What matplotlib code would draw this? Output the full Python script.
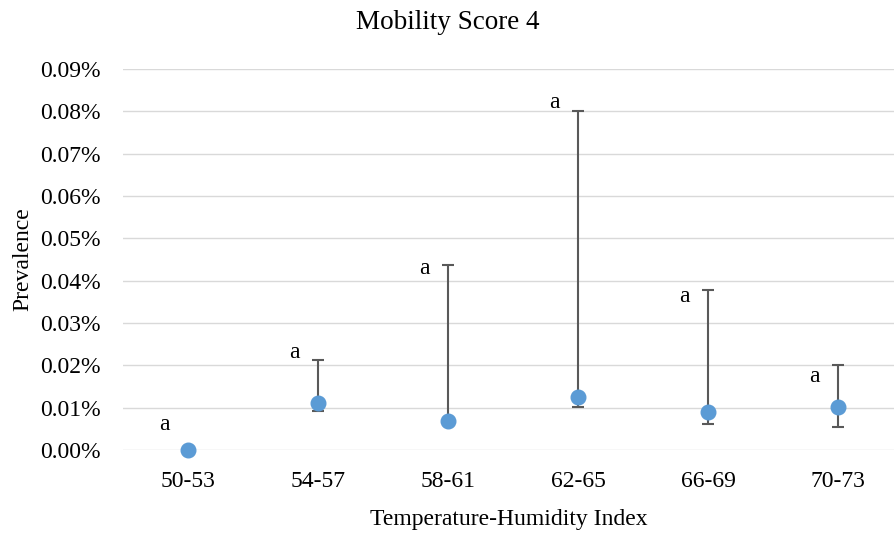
import numpy as np
import matplotlib
matplotlib.use("Agg")
import matplotlib.pyplot as plt
from matplotlib.ticker import FuncFormatter

# THI groups and prevalence (%) with asymmetric CI
groups = ["50-53", "54-57", "58-61", "62-65", "66-69", "70-73"]
prevalence = [0.0, 0.0111, 0.0069, 0.0125, 0.0090, 0.0101]
ci_low = [0.0, 0.0092, 0.0066, 0.0102, 0.0061, 0.0054]
ci_high = [0.0, 0.0213, 0.0437, 0.0800, 0.0378, 0.0200]
letters = ["a", "a", "a", "a", "a", "a"]
letter_y = [0.0047, 0.0217, 0.0416, 0.0808, 0.0350, 0.0161]

plt.rcParams['font.family'] = ['Liberation Serif', 'DejaVu Serif']

fig = plt.figure(figsize=(8.95, 5.33), dpi=100)
ax = fig.add_axes([123/895, 1 - 450/533, 1 - 123/895, (450 - 69)/533])

x = np.arange(len(groups))
prev = np.array(prevalence)
yerr = [prev - np.array(ci_low), np.array(ci_high) - prev]

ax.errorbar(x, prev, yerr=yerr, fmt="none", ecolor="#595959", elinewidth=1.5,
            capsize=4.5, capthick=1.5, zorder=3)
ax.plot(x, prev, "o", color="#5B9BD5", markersize=10.5, zorder=4, clip_on=False)

for xi, ly, s in zip(x, letter_y, letters):
    ax.annotate(s, (xi, ly), xytext=(-17, 0), textcoords="offset points",
                ha="center", va="baseline", fontsize=17)

ax.set_xlim(-0.5, (895 - 123)/130 - 0.5)
ax.set_ylim(0, 0.09)
ax.set_yticks(np.arange(0, 0.091, 0.01))
ax.yaxis.set_major_formatter(FuncFormatter(lambda v, p: "%.2f%%" % v))
ax.set_xticks(x)
ax.set_xticklabels(groups)
ax.grid(axis="y", color="#D9D9D9", linewidth=1.0)
ax.set_axisbelow(True)
for sp in ax.spines.values():
    sp.set_visible(False)
ax.tick_params(axis="both", length=0, labelsize=17)
ax.tick_params(axis="y", pad=16)
ax.tick_params(axis="x", pad=15)

ax.set_xlabel("Temperature-Humidity Index", fontsize=17, labelpad=12)
ax.set_ylabel("Prevalence", fontsize=17, labelpad=5)
fig.text(0.5, 1 - 22/533, "Mobility Score 4", ha="center", va="center", fontsize=19.5)

fig.savefig("out.png", dpi=100)
